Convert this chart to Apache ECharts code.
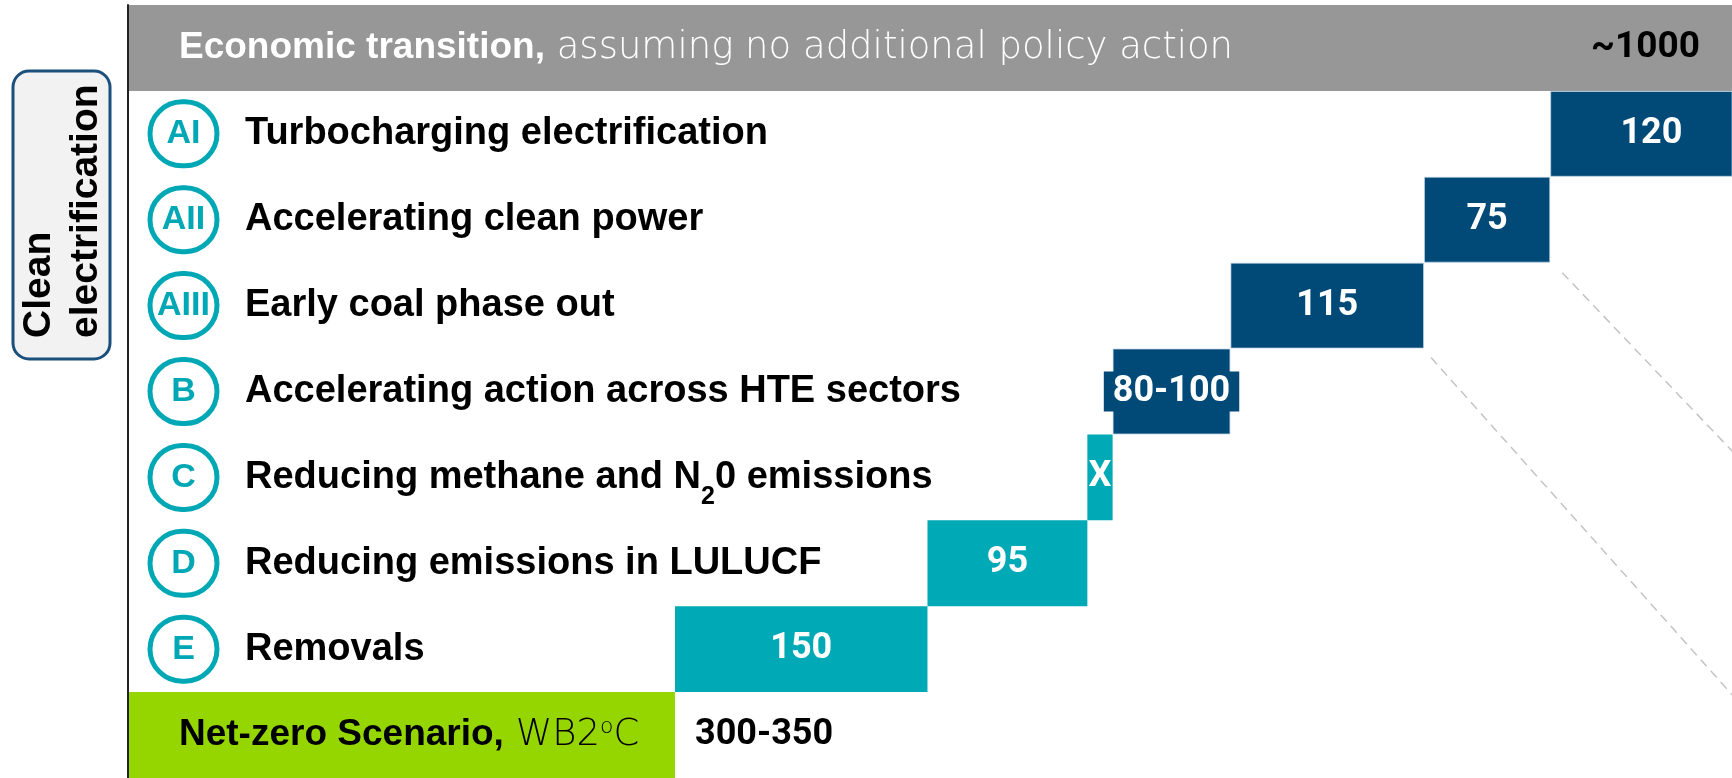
<!DOCTYPE html>
<html>
<head>
<meta charset="utf-8">
<style>
  html, body { margin: 0; padding: 0; background: #fff; }
  #chart { width: 1732px; height: 778px; }
</style>
<script src="https://cdn.jsdelivr.net/npm/echarts@6/dist/echarts.min.js"></script>
</head>
<body>
<div id="chart"></div>
<script>
// rows, top to bottom
const categories = ['Economic transition', 'AI', 'AII', 'AIII', 'B', 'C', 'D', 'E', 'Net-zero Scenario']
const leverNames = [
  'Turbocharging electrification',
  'Accelerating clean power',
  'Early coal phase out',
  'Accelerating action across HTE sectors',
  'Reducing methane and N₂0 emissions',
  'Reducing emissions in LULUCF',
  'Removals'
]
// widths as drawn in the picture, and the labels written on them
const leverValues = [120, 75, 115, 70, 15, 95, 150]
const leverLabels = ['120', '75', '115', '80-100', 'X', '95', '150']
const baselineValue = 1000
const baselineLabel = '~1000'
const netZeroValue = 325
const netZeroLabel = '300-350'

const DARK = '#014a78'
const TEAL = '#00a9b6'
const GRAY = '#979797'
const GREEN = '#96d600'
const TXT = '"Liberation Sans", Arial, sans-serif'
const NUM = 'Roboto, "Liberation Sans", sans-serif'

// waterfall offsets: each lever starts where the ones below it end
const offsets = categories.map((c, i) => {
  if (i === 0 || i === categories.length - 1) return 0
  let s = netZeroValue
  for (let j = i; j < leverValues.length; j++) s += leverValues[j]
  return s
})

const numLabel = {
  show: true,
  position: 'inside',
  color: '#fff',
  fontFamily: NUM,
  fontWeight: 'bold',
  fontSize: 36
}

const values = categories.map((c, i) => {
  if (i === 0) {
    return {
      value: baselineValue,
      itemStyle: { color: GRAY },
      label: { ...numLabel, position: 'insideRight', distance: 32, color: '#000', fontSize: 37, formatter: baselineLabel }
    }
  }
  if (i === categories.length - 1) {
    return {
      value: netZeroValue,
      itemStyle: { color: GREEN },
      label: { ...numLabel, position: 'right', distance: 20, color: '#000', formatter: netZeroLabel }
    }
  }
  const k = i - 1
  const dark = k < 4
  const lab = { ...numLabel, formatter: leverLabels[k] }
  if (k === 0) lab.offset = [10, 0]
  if (leverLabels[k] === '80-100') {
    lab.backgroundColor = DARK
    lab.padding = [1, 9]
    lab.lineHeight = 38
  }
  return {
    value: leverValues[k],
    itemStyle: dark
      ? { color: DARK, borderColor: 'rgba(190,210,230,0.7)', borderWidth: 1 }
      : { color: TEAL },
    label: lab
  }
})

function rowLabel(value, index) {
  if (index === 0) {
    return '{strongW|' + value + ',}{lightW| assuming no additional policy action}'
  }
  if (index === categories.length - 1) {
    return '{strongB|' + value + ',}{lightB| WB2}{sup|o}{lightB|C}'
  }
  const parts = leverNames[index - 1].split('₂')
  let s = '{badge|' + value + '}{name0|' + parts[0] + '}'
  for (let p = 1; p < parts.length; p++) s += '{sub|2}{name|' + parts[p] + '}'
  return s
}

const chart = echarts.init(document.getElementById('chart'))

chart.setOption({
  animation: false,
  grid: { left: 128, right: 0, top: 5, bottom: 0 },
  xAxis: { type: 'value', min: 0, max: 953, show: false },
  yAxis: {
    type: 'category',
    inverse: true,
    data: categories,
    z: 10,
    axisLine: { show: true, lineStyle: { color: '#222', width: 2 } },
    axisTick: { show: false },
    splitLine: { show: false },
    axisLabel: {
      inside: true,
      margin: 22,
      interval: 0,
      formatter: rowLabel,
      rich: {
        badge: {
          width: 67, height: 64, borderRadius: 36,
          borderColor: '#00a8b5', borderWidth: 5,
          color: '#00a8b5', fontFamily: TXT, fontWeight: 'bold', fontSize: 34,
          align: 'center'
        },
        name0: { padding: [0, 0, 0, 28], color: '#000', fontFamily: TXT, fontWeight: 'bold', fontSize: 38 },
        name: { color: '#000', fontFamily: TXT, fontWeight: 'bold', fontSize: 38 },
        sub: { color: '#000', fontFamily: TXT, fontWeight: 'bold', fontSize: 25, verticalAlign: 'bottom', padding: [14, 0, 0, 0] },
        strongW: { padding: [0, 0, 0, 29], color: '#fff', fontFamily: TXT, fontWeight: 'bold', fontSize: 37 },
        lightW: { color: '#fff', fontFamily: '"DejaVu Sans", sans-serif', fontWeight: 200, fontSize: 37 },
        strongB: { padding: [0, 0, 0, 29], color: '#000', fontFamily: TXT, fontWeight: 'bold', fontSize: 37 },
        lightB: { color: '#000', fontFamily: '"DejaVu Sans", sans-serif', fontWeight: 200, fontSize: 37 },
        sup: { color: '#000', fontFamily: '"DejaVu Sans", sans-serif', fontWeight: 200, fontSize: 22, verticalAlign: 'top', padding: [0, 0, 14, 0] }
      }
    }
  },
  series: [
    {
      name: 'offset',
      type: 'bar',
      stack: 'w',
      silent: true,
      barCategoryGap: '0%',
      itemStyle: { color: 'transparent' },
      data: offsets
    },
    {
      name: 'value',
      type: 'bar',
      stack: 'w',
      barCategoryGap: '0%',
      data: values
    }
  ]
})

// dashed guide lines leaving the lower-right corners of AII and AIII
const rowH = chart.convertToPixel({ yAxisIndex: 0 }, 'AII') - chart.convertToPixel({ yAxisIndex: 0 }, 'AI')
function guide(cat, dx, dy, slope) {
  const i = categories.indexOf(cat)
  const pt = chart.convertToPixel({ gridIndex: 0 }, [offsets[i] + leverValues[i - 1], cat])
  const x1 = pt[0] + dx
  const y1 = pt[1] + rowH / 2 + dy
  const x2 = chart.getWidth() + 10
  return {
    type: 'line',
    silent: true,
    shape: { x1, y1, x2, y2: y1 + slope * (x2 - x1) },
    style: { stroke: '#c4c4c4', lineWidth: 1.5, lineDash: [9, 6] }
  }
}

chart.setOption({
  graphic: [
    {
      type: 'rect',
      shape: { x: 13, y: 71, width: 97, height: 288, r: 16 },
      style: { fill: '#f2f2f2', stroke: '#1b4f7c', lineWidth: 3 }
    },
    {
      type: 'text',
      x: 63,
      y: 338,
      rotation: Math.PI / 2,
      style: {
        text: 'Clean\nelectrification',
        fill: '#000',
        font: 'bold 39px "Liberation Sans", Arial, sans-serif',
        align: 'left',
        verticalAlign: 'middle',
        lineHeight: 47
      }
    },
    guide('AII', 12, 10, 1.05),
    guide('AIII', 7, 9, 1.12)
  ]
})
</script>
</body>
</html>
